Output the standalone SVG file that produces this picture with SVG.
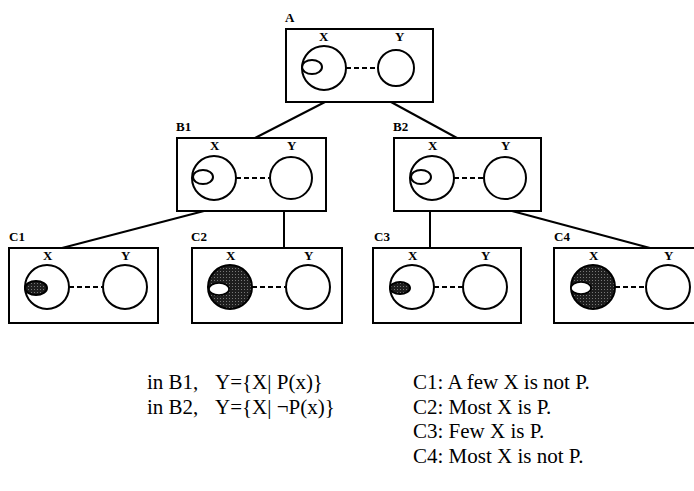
<svg xmlns="http://www.w3.org/2000/svg" width="694" height="491" viewBox="0 0 694 491">
<style>
.box{fill:#fff;stroke:#000;stroke-width:2}
.c{fill:none;stroke:#000;stroke-width:2}
.st{fill:url(#stip);stroke:#000;stroke-width:2}
.w{fill:#fff;stroke:#000;stroke-width:1.5}
.dl{stroke:#000;stroke-width:2;stroke-dasharray:5 3}
.ln{stroke:#000;stroke-width:2;fill:none}
.lb{font-family:"Liberation Serif",serif;font-size:13px;font-weight:bold;fill:#000}
.tx{font-family:"Liberation Serif",serif;font-size:21px;fill:#000}
</style>
<defs>
<pattern id="stip" width="3" height="3" patternUnits="userSpaceOnUse">
<rect width="3" height="3" fill="#1e1e1e"/>
<rect x="1" y="1" width="1" height="1" fill="#777"/>
</pattern>
</defs>
<g id="connectors">
<line class="ln" x1="325" y1="102" x2="255" y2="138"/>
<line class="ln" x1="391" y1="102" x2="457" y2="138"/>
<line class="ln" x1="204" y1="211" x2="62" y2="248"/>
<line class="ln" x1="284" y1="211" x2="284" y2="248"/>
<line class="ln" x1="430" y1="211" x2="430" y2="248"/>
<line class="ln" x1="512" y1="211" x2="650" y2="248"/>
</g>
<g id="A">
<rect class="box" x="286" y="29" width="147" height="73"/>
<text class="lb" x="285" y="22">A</text>
<text class="lb" x="319" y="41">X</text>
<text class="lb" x="395" y="41">Y</text>
<circle class="c" cx="324" cy="68" r="22"/>
<ellipse class="c" cx="312" cy="67" rx="10" ry="7"/>
<circle class="c" cx="396" cy="68" r="18"/>
<line class="dl" x1="346" y1="68" x2="378" y2="68"/>
</g>
<g id="B1">
<rect class="box" x="177" y="138" width="149" height="73"/>
<text class="lb" x="176" y="131">B1</text>
<text class="lb" x="210" y="150">X</text>
<text class="lb" x="287" y="150">Y</text>
<circle class="c" cx="214" cy="178" r="22"/>
<ellipse class="c" cx="203" cy="177" rx="10" ry="7"/>
<circle class="c" cx="291" cy="178" r="21"/>
<line class="dl" x1="236" y1="178" x2="270" y2="178"/>
</g>
<g id="B2">
<rect class="box" x="394" y="138" width="147" height="73"/>
<text class="lb" x="393" y="131">B2</text>
<text class="lb" x="428" y="150">X</text>
<text class="lb" x="501" y="150">Y</text>
<circle class="c" cx="432" cy="178" r="22"/>
<ellipse class="c" cx="421" cy="177" rx="10" ry="7"/>
<circle class="c" cx="505" cy="178" r="21"/>
<line class="dl" x1="454" y1="178" x2="484" y2="178"/>
</g>
<g id="C1">
<rect class="box" x="9" y="248" width="149" height="75"/>
<text class="lb" x="9" y="241">C1</text>
<text class="lb" x="43" y="260">X</text>
<text class="lb" x="121" y="260">Y</text>
<circle class="c" cx="47" cy="287" r="22"/>
<ellipse class="st" cx="36" cy="288" rx="11" ry="7"/>
<circle class="c" cx="125" cy="287" r="22"/>
<line class="dl" x1="69" y1="287" x2="103" y2="287"/>
</g>
<g id="C2">
<rect class="box" x="192" y="248" width="150" height="75"/>
<text class="lb" x="191" y="241">C2</text>
<text class="lb" x="226" y="260">X</text>
<text class="lb" x="304" y="260">Y</text>
<circle class="st" cx="230" cy="287" r="22"/>
<ellipse class="w" cx="219" cy="289" rx="10" ry="6"/>
<circle class="c" cx="308" cy="287" r="22"/>
<line class="dl" x1="252" y1="287" x2="286" y2="287"/>
</g>
<g id="C3">
<rect class="box" x="373" y="248" width="148" height="75"/>
<text class="lb" x="374" y="241">C3</text>
<text class="lb" x="408" y="260">X</text>
<text class="lb" x="481" y="260">Y</text>
<circle class="c" cx="412" cy="287" r="22"/>
<ellipse class="st" cx="400" cy="288" rx="10" ry="6"/>
<circle class="c" cx="485" cy="287" r="22"/>
<line class="dl" x1="434" y1="287" x2="463" y2="287"/>
</g>
<g id="C4">
<rect class="box" x="554" y="248" width="150" height="75"/>
<text class="lb" x="554" y="241">C4</text>
<text class="lb" x="589" y="260">X</text>
<text class="lb" x="664" y="260">Y</text>
<circle class="st" cx="593" cy="287" r="22"/>
<ellipse class="w" cx="581" cy="288" rx="10" ry="6"/>
<circle class="c" cx="668" cy="287" r="22"/>
<line class="dl" x1="615" y1="287" x2="646" y2="287"/>
</g>
<g id="notes">
<text class="tx" x="147" y="389">in B1,</text>
<text class="tx" x="215" y="389">Y={X| P(x)}</text>
<text class="tx" x="147" y="414">in B2,</text>
<text class="tx" x="215" y="414">Y={X| ¬P(x)}</text>
<text class="tx" x="413" y="389">C1: A few X is not P.</text>
<text class="tx" x="413" y="414">C2: Most X is P.</text>
<text class="tx" x="413" y="438">C3: Few X is P.</text>
<text class="tx" x="413" y="463">C4: Most X is not P.</text>
</g>
</svg>
